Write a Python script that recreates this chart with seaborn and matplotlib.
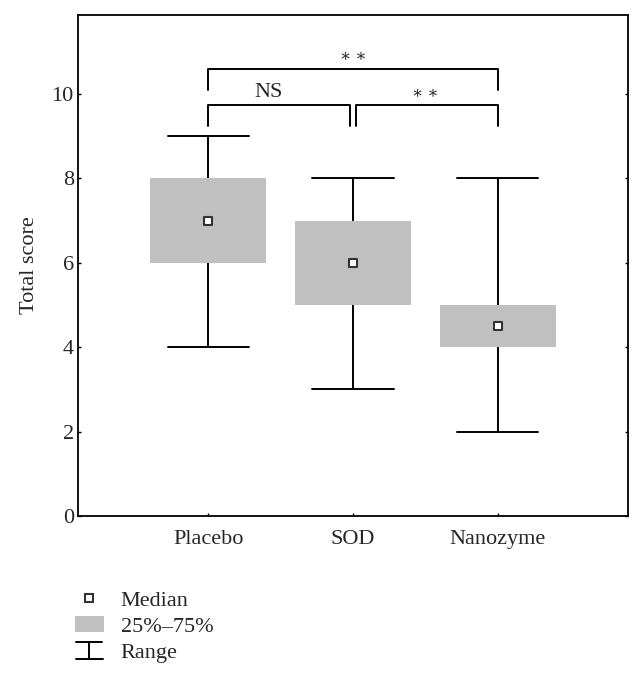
import pandas as pd
import matplotlib.pyplot as plt
import seaborn as sns
import numpy as np
from matplotlib.lines import Line2D
from matplotlib.patches import Patch
from matplotlib.legend_handler import HandlerBase

# Data: range, quartiles and median per group
groups = ['Placebo', 'SOD', 'Nanozyme']
mins = [4, 3, 2]
q1s = [6, 5, 4]
medians = [7, 6, 4.5]
q3s = [8, 7, 5]
maxs = [9, 8, 8]

# significance brackets: (left group, right group, bar height, label)
sig_pairs = [(0, 1), (1, 2), (0, 2)]
sig_heights = [9.74, 9.74, 10.6]
sig_labels = ['NS', '∗ ∗', '∗ ∗']

# five values per group -> quartiles fall exactly on q1/median/q3
rows = []
for g, a, b, c, d, e in zip(groups, mins, q1s, medians, q3s, maxs):
    for v in (a, b, c, d, e):
        rows.append({'group': g, 'score': v})
df = pd.DataFrame(rows)

sns.set_style('white')
plt.rcParams['font.family'] = ['Liberation Serif', 'DejaVu Serif']
FS = 16

fig = plt.figure(figsize=(6.43, 6.8), dpi=100)
ax = fig.add_axes([78 / 643, 1 - 516 / 680, 550 / 643, 501 / 680])

sns.boxplot(data=df, x='group', y='score', order=groups, whis=(0, 100),
            width=0.8, color='#c0c0c0', linecolor='black', linewidth=1.4,
            fill=True, showfliers=False, ax=ax,
            medianprops={'visible': False})
for p in ax.patches:
    p.set_edgecolor('none')
    p.set_facecolor('#c0c0c0')

# widen the whisker caps
for ln in ax.lines:
    xs, ys = np.asarray(ln.get_xdata(), float), np.asarray(ln.get_ydata(), float)
    if len(xs) == 2 and ys[0] == ys[1] and xs[0] != xs[1]:
        c = xs.mean()
        ln.set_xdata([c - 0.28, c + 0.28])

sns.scatterplot(x=groups, y=medians, marker='s', s=30, color='white',
                edgecolor='#333333', linewidth=1.5, zorder=5, ax=ax, legend=False)

# brackets
for (i, j), h, lab in zip(sig_pairs, sig_heights, sig_labels):
    drop = 0.5
    xi = i + (0.02 if i == 1 else 0)
    xj = j - (0.02 if j == 1 else 0)
    ax.plot([xi, xi, xj, xj], [h - drop, h, h, h - drop], color='black', lw=1.4)
    if lab == 'NS':
        ax.text((i + j) / 2 - 0.08, h + 0.06, lab, ha='center', va='bottom', fontsize=FS)
    else:
        ax.text((i + j) / 2, h + 0.27, lab, ha='center', va='center', fontsize=12)

ax.set_xlim(-0.9, 2.9)
ax.set_ylim(0, 11.87)
ax.set_yticks([0, 2, 4, 6, 8, 10])
ax.set_xlabel('')
ax.set_ylabel('Total score', fontsize=FS, labelpad=9)
ax.tick_params(axis='both', direction='in', length=2.5, labelsize=FS, width=1,
               color='black', left=True, bottom=True, right=True)
ax.tick_params(axis='x', pad=10)
ax.tick_params(axis='y', pad=3)
for s in ax.spines.values():
    s.set_visible(True)
    s.set_color('black')
    s.set_linewidth(1.3)


class RangeHandler(HandlerBase):
    def create_artists(self, legend, orig_handle, xd, yd, width, height, fontsize, trans):
        cx = xd + width / 2
        top = yd + height
        bot = yd - 1
        l1 = Line2D([cx, cx], [bot, top], color='black', lw=1.4, transform=trans)
        l2 = Line2D([cx - width * 0.45, cx + width * 0.45], [top, top], color='black', lw=1.4, transform=trans)
        l3 = Line2D([cx - width * 0.48, cx + width * 0.48], [bot, bot], color='black', lw=1.4, transform=trans)
        return [l1, l2, l3]


range_handle = object()
handles = [
    Line2D([], [], marker='s', linestyle='none', markerfacecolor='white',
           markeredgecolor='#333333', markeredgewidth=1.5, markersize=5.5),
    Patch(facecolor='#c0c0c0', edgecolor='none'),
    range_handle,
]
fig.legend(handles, ['Median', '25%–75%', 'Range'], loc='upper left',
           bbox_to_anchor=(55 / 643, 1 - 570 / 680), frameon=False, fontsize=FS,
           handlelength=1.3, handletextpad=0.75, labelspacing=0.25,
           handler_map={range_handle: RangeHandler()})

plt.savefig('out.png', dpi=100)
